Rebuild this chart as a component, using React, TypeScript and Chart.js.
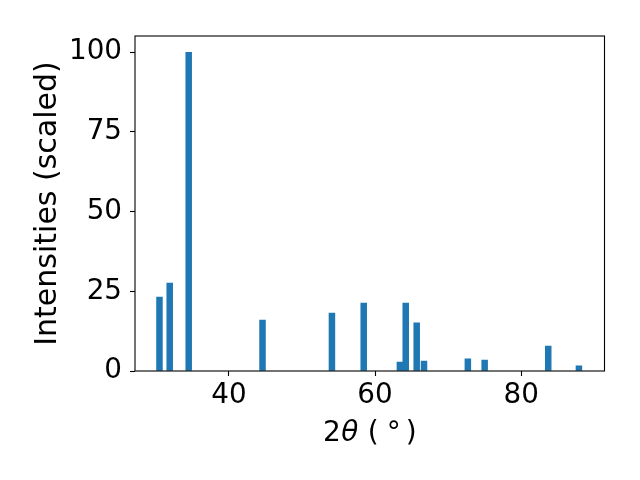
import React, { useEffect, useRef } from "react";
import { Chart, registerables } from "chart.js";

Chart.register(...registerables);

const twoTheta = [30.5, 31.9, 34.5, 44.6, 54.1, 58.45, 63.4, 64.2, 65.7, 66.7, 72.7, 75.0, 83.7, 87.9];
const intensities = [23.2, 27.6, 100, 16.0, 18.2, 21.3, 2.8, 21.3, 15.1, 3.1, 3.8, 3.4, 7.8, 1.6];
const xTicks = [40, 60, 80];
const yTicks = [0, 25, 50, 75, 100];
const yLabel = "Intensities (scaled)";
// pieces of the x axis label "2θ (°)"; gap is extra space before the piece, in em
const xLabelParts = [
  { text: "2", italic: false, gap: 0 },
  { text: "θ", italic: true, gap: 0.02 },
  { text: " (", italic: false, gap: 0.02 },
  { text: "°", italic: false, gap: 0.28 },
  { text: ")", italic: false, gap: 0.18 },
];

const FONT = "DejaVu Sans";
const TICK_SIZE = 27.8;
const YLABEL_SIZE = 30;
const XLABEL_SIZE = 28;
const BAR_COLOR = "#1f77b4";

const labelPlugin = {
  id: "labels",
  afterDraw(chart: any) {
    const { ctx, chartArea } = chart;
    const { left, right, top, bottom } = chartArea;
    ctx.save();
    ctx.strokeStyle = "#000";
    ctx.lineWidth = 1.1;
    ctx.strokeRect(left, top, right - left, bottom - top);

    ctx.fillStyle = "#000";
    ctx.font = `${YLABEL_SIZE}px "${FONT}"`;
    ctx.translate(55.5, (top + bottom) / 2);
    ctx.rotate(-Math.PI / 2);
    ctx.textAlign = "center";
    ctx.textBaseline = "alphabetic";
    ctx.fillText(yLabel, 0, 0);
    ctx.restore();

    ctx.save();
    ctx.fillStyle = "#000";
    ctx.textBaseline = "alphabetic";
    ctx.textAlign = "left";
    const widths = xLabelParts.map((p) => {
      ctx.font = `${p.italic ? "oblique " : ""}${XLABEL_SIZE}px "${FONT}"`;
      return ctx.measureText(p.text).width + p.gap * XLABEL_SIZE;
    });
    const total = widths.reduce((a, b) => a + b, 0);
    let x = (left + right) / 2 - total / 2;
    const baseline = 440.5;
    xLabelParts.forEach((p, i) => {
      ctx.font = `${p.italic ? "oblique " : ""}${XLABEL_SIZE}px "${FONT}"`;
      ctx.fillText(p.text, x + p.gap * XLABEL_SIZE, baseline);
      x += widths[i];
    });
    ctx.restore();
  },
};

export default function App() {
  const ref = useRef<HTMLCanvasElement>(null);
  useEffect(() => {
    if (!ref.current) return;
    const gridOpts = {
      drawOnChartArea: false,
      drawTicks: true,
      tickLength: 5,
      offset: false,
      color: "#000",
      tickColor: "#000",
      tickWidth: 1.1,
    };
    const chart = new Chart(ref.current, {
      type: "bar",
      data: {
        datasets: [
          {
            data: twoTheta.map((x, i) => ({ x, y: intensities[i] })),
            backgroundColor: BAR_COLOR,
            barThickness: 5.84,
            borderWidth: 0,
          },
        ],
      },
      options: {
        responsive: false,
        animation: false,
        layout: { padding: { left: 0, top: 36, right: 35.5, bottom: 0 } },
        plugins: { legend: { display: false }, tooltip: { enabled: false } },
        scales: {
          x: {
            type: "linear",
            min: 27.15,
            max: 91.4,
            offset: false,
            afterBuildTicks: (s: any) => {
              s.ticks = xTicks.map((v) => ({ value: v }));
            },
            afterFit: (s: any) => {
              s.height = 109;
            },
            grid: gridOpts,
            border: { display: false },
            ticks: {
              font: { family: FONT, size: TICK_SIZE },
              color: "#000",
              padding: 3,
              maxRotation: 0,
              autoSkip: false,
            },
          },
          y: {
            type: "linear",
            min: 0,
            max: 105.1,
            afterBuildTicks: (s: any) => {
              s.ticks = yTicks.map((v) => ({ value: v }));
            },
            afterFit: (s: any) => {
              s.width = 135;
            },
            grid: gridOpts,
            border: { display: false },
            ticks: {
              font: { family: FONT, size: TICK_SIZE },
              color: "#000",
              padding: 8,
              autoSkip: false,
            },
          },
        },
      },
      plugins: [labelPlugin],
    } as any);
    return () => chart.destroy();
  }, []);
  return (
    <div style={{ position: "fixed", left: 0, top: 0, width: 640, height: 480, background: "#fff" }}>
      <canvas ref={ref} width={640} height={480} style={{ width: 640, height: 480 }} />
    </div>
  );
}
